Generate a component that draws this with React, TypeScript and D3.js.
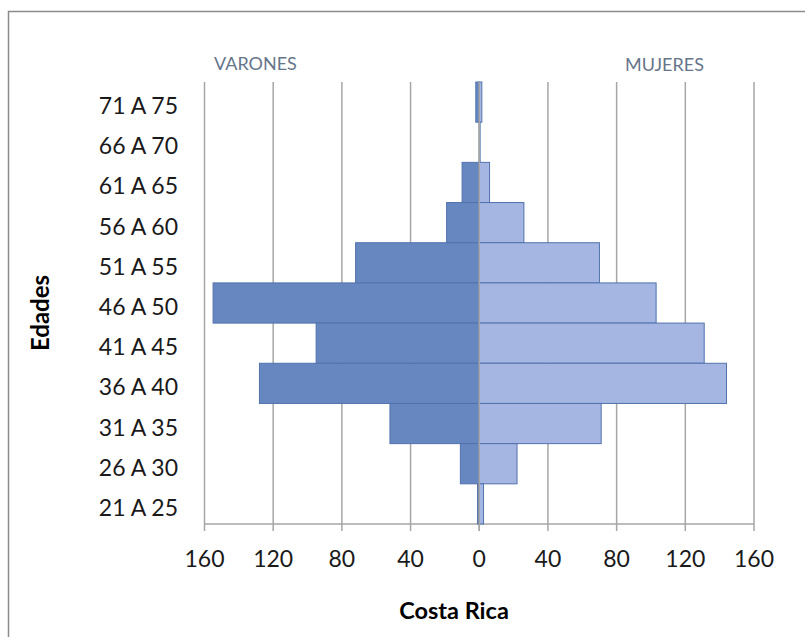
import React from "react";
import * as d3 from "d3";

const categories = ["71 A 75", "66 A 70", "61 A 65", "56 A 60", "51 A 55", "46 A 50", "41 A 45", "36 A 40", "31 A 35", "26 A 30", "21 A 25"];
const varones = [2, 0, 10, 19, 72, 155, 95, 128, 52, 11, 1];
const mujeres = [1.5, 0.5, 6, 26, 70, 103, 131, 144, 71, 22, 2.5];
const ticks = [-160, -120, -80, -40, 0, 40, 80, 120, 160];

const W = 805, H = 637;
const FONT = "Lato, 'Open Sans', sans-serif";

export default function App() {
  const x = d3.scaleLinear().domain([-160, 160]).range([204.5, 754]);
  const y = d3.scaleBand().domain(categories).range([82, 524]).padding(0);
  const menFill = "#6787C1";
  const womenFill = "#A4B6E1";
  const stroke = "#5272AC";
  return (
    <svg width={W} height={H} style={{ position: "absolute", left: 0, top: 0, background: "#fff" }}>
      <rect x={8.5} y={11.5} width={W} height={H} fill="#fff" stroke="#8c8c8c" strokeWidth={1.5} />
      {ticks.map((t) => (
        <line key={"g" + t} x1={x(t)} x2={x(t)} y1={82} y2={531} stroke="#a6a6a6" strokeWidth={1.5} />
      ))}
      <line x1={x(-160)} x2={x(160)} y1={524} y2={524} stroke="#a6a6a6" strokeWidth={1.5} />
      {categories.map((c, i) => (
        <g key={c}>
          {varones[i] > 0 && (
            <rect x={x(-varones[i])} y={y(c)!} width={x(0) - x(-varones[i])} height={y.bandwidth()} fill={menFill} stroke={stroke} strokeWidth={1} />
          )}
          {mujeres[i] > 0 && (
            <rect x={x(0)} y={y(c)!} width={x(mujeres[i]) - x(0)} height={y.bandwidth()} fill={womenFill} stroke={stroke} strokeWidth={1} />
          )}
        </g>
      ))}
      <line x1={x(0)} x2={x(0)} y1={82} y2={531} stroke="#a6a6a6" strokeWidth={1.5} />
      {categories.map((c) => (
        <text key={"l" + c} x={178} y={y(c)! + y.bandwidth() / 2 + 12} textAnchor="end" fontFamily={FONT} fontSize={23} fill="#1a1a1a">
          {c}
        </text>
      ))}
      {ticks.map((t) => (
        <text key={"t" + t} x={x(t)} y={567} textAnchor="middle" fontFamily={FONT} fontSize={23} fill="#1a1a1a">
          {Math.abs(t)}
        </text>
      ))}
      <text x={454} y={619} textAnchor="middle" fontFamily={FONT} fontWeight="bold" fontSize={23.5} fill="#000">
        Costa Rica
      </text>
      <text transform="translate(49,313) rotate(-90)" textAnchor="middle" fontFamily={FONT} fontWeight="bold" fontSize={24} fill="#000">
        Edades
      </text>
      <text x={214} y={70} fontFamily={FONT} fontSize={18} fill="#66758a">VARONES</text>
      <text x={625} y={71} fontFamily={FONT} fontSize={18} fill="#66758a">MUJERES</text>
    </svg>
  );
}
